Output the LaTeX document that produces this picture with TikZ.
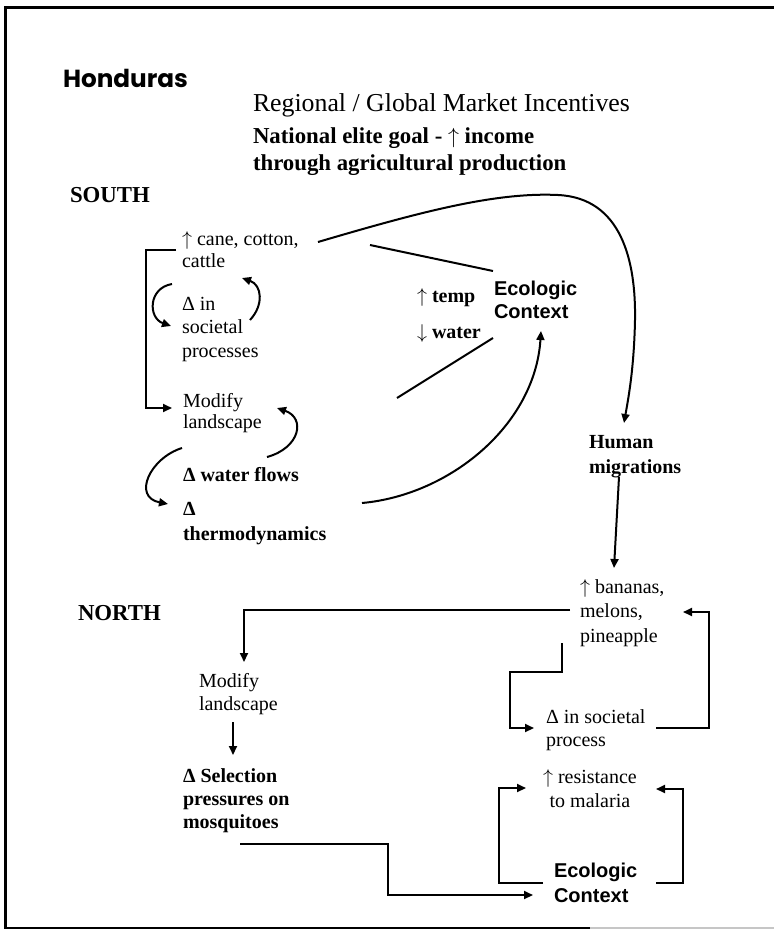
\documentclass[tikz,border=0pt]{standalone}
\usepackage{fontspec}
\setmainfont{Liberation Serif}
\newfontfamily\arialfont{Liberation Sans}
\newfontfamily\headfont{Poppins}
\usetikzlibrary{arrows.meta}
% stacked lines with a given baseline skip; the node baseline is the first line
\makeatletter
\newcommand{\lns}[3][l]{\fontsize{\f@size}{#2}\selectfont\begin{tabular}[t]{@{}#1@{}}#3\end{tabular}}
\makeatother
\newcommand{\up}{$\uparrow$}
\newcommand{\down}{$\downarrow$}
\begin{document}
\begin{tikzpicture}[x=0.5pt,y=-0.5pt,
  txt/.style={anchor=base west, inner sep=0pt, outer sep=0pt},
  reg/.style={txt, font=\fontsize{10}{12}\selectfont},
  bld/.style={txt, font=\fontsize{10}{12}\selectfont\bfseries},
  hdr/.style={txt, font=\fontsize{11.4}{13.5}\selectfont\bfseries},
  eco/.style={txt, font=\arialfont\fontsize{10}{12}\selectfont\bfseries},
  conn/.style={line width=1pt},
  arr/.style={conn, -{Triangle[length=4.5pt,width=4pt]}}]
\useasboundingbox (0,0) rectangle (774,931);

% frame
\draw[line width=1.2pt] (774,7.5) -- (5.5,7.5) -- (5.5,928) -- (590,928);
\draw[gray!45, line width=0.8pt] (590,928) -- (774,928);

% headings
\node[txt] (title) at (63,87) {\resizebox{62.5pt}{!}{\headfont\bfseries Honduras}};
\node[txt, font=\fontsize{12.9}{15}\selectfont] (market) at (253,112) {Regional / Global Market Incentives};
\node[hdr] (elite) at (253,143) {\lns{13.5pt}{National elite goal - \up{} income\\through agricultural production}};
\node[hdr] (south) at (70,202) {SOUTH};
\node[hdr] (north) at (78,620) {NORTH};

% south
\node[reg] (cane) at (182,245) {\lns{11pt}{\up{} cane, cotton,\\cattle}};
\node[reg] (soc) at (182,310) {\lns{11.75pt}{Δ in\\societal\\processes}};
\node[reg] (mod1) at (183,407) {\lns{10.75pt}{Modify\\landscape}};
\node[bld] (flows) at (183,481) {Δ water flows};
\node[bld] (thermo) at (183,515) {\lns{12.5pt}{Δ\\thermodynamics}};
\node[bld] (tempw) at (417,302) {\lns{18pt}{\up{} temp\\\down{} water}};
\node[eco] (eco1) at (494,295) {\lns{11.5pt}{Ecologic\\Context}};
\node[bld] (human) at (589,448) {\lns{12.5pt}{Human\\migrations}};

% north
\node[reg] (crops) at (580,593) {\lns{12.25pt}{\up{} bananas,\\melons,\\pineapple}};
\node[reg] (mod2) at (199,687) {\lns{11.5pt}{Modify\\landscape}};
\node[bld] (sel) at (183,782) {\lns{11.5pt}{Δ Selection\\pressures on\\mosquitoes}};
\node[reg] (soc2) at (546,723) {\lns{11.5pt}{Δ in societal\\process}};
\node[reg] (resist) at (543,783) {\lns[c]{12pt}{\up{} resistance\\to malaria}};
\node[eco] (eco2) at (554,877) {\lns{12.5pt}{Ecologic\\Context}};

% connector end points
\coordinate (caneA) at (318,242);
\coordinate (caneB) at (370,245);
\coordinate (caneC) at (176,250);
\coordinate (eco1a) at (493,271);
\coordinate (eco1b) at (493,338);
\coordinate (eco1c) at (541,331);
\coordinate (modA) at (397,398);
\coordinate (thermoA) at (362,503);
\coordinate (humanIn) at (624,423);
\coordinate (humanOut) at (619,477);
\coordinate (cropsIn) at (614,568);
\coordinate (cropsW) at (570,610);
\coordinate (cropsS) at (562,643);
\coordinate (cropsE) at (683,612);
\coordinate (mod2In) at (244,662);
\coordinate (mod2Out) at (233,722);
\coordinate (selIn) at (233,755);
\coordinate (selOut) at (240,844);
\coordinate (eco2In) at (533,895);
\coordinate (eco2W) at (543,883);
\coordinate (eco2E) at (656,883);
\coordinate (soc2In) at (534,728);
\coordinate (soc2Out) at (656,728);
\coordinate (resW) at (526,788);
\coordinate (resE) at (656,789);

% south connectors
\draw[conn] (caneB) -- (eco1a);
\draw[conn] (modA) -- (eco1b);
\draw[arr] (caneA) .. controls (420,212) and (495,192) .. (558,195)
  .. controls (622,198) and (636,262) .. (635,320)
  .. controls (634,370) and (628,400) .. (humanIn);
\draw[arr] (thermoA) .. controls (450,495) and (535,425) .. (eco1c);
\draw[arr] (caneC) -- (146,250) -- (146,408) -- (172,408);
\draw[arr] (172,284) .. controls (148,288) and (148,318) .. (171,326);
\draw[arr] (250,320) .. controls (264,305) and (262,285) .. (242,278);
\draw[arr] (267,457) .. controls (300,448) and (306,418) .. (277,408);
\draw[arr] (182,448) .. controls (150,458) and (132,497) .. (168,504);

% north connectors
\draw[arr] (humanOut) -- (cropsIn);
\draw[arr] (cropsW) -- (244,610) -- (mod2In);
\draw[arr] (mod2Out) -- (selIn);
\draw[arr] (selOut) -- (388,844) -- (388,895) -- (eco2In);
\draw[arr] (cropsS) -- (562,672) -- (510,672) -- (510,728) -- (soc2In);
\draw[arr] (soc2Out) -- (709,728) -- (709,612) -- (cropsE);
\draw[arr] (eco2W) -- (499,883) -- (499,788) -- (resW);
\draw[arr] (eco2E) -- (683,883) -- (683,789) -- (resE);
\end{tikzpicture}
\end{document}
